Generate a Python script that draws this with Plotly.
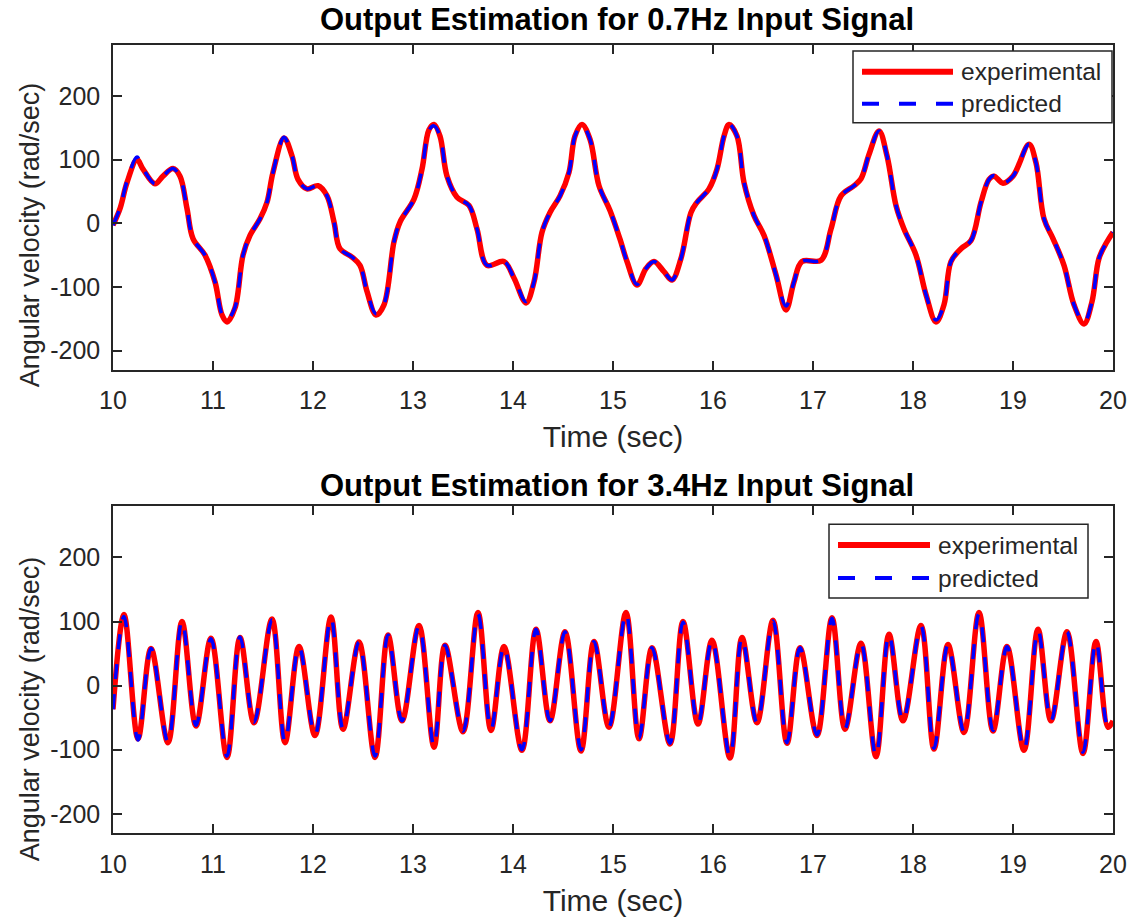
import plotly.graph_objects as go

# ---------------- data ----------------
t_top = [10.00, 10.07, 10.14, 10.24, 10.30, 10.42, 10.50, 10.60, 10.67, 10.74,
         10.80, 10.92, 11.02, 11.09, 11.14, 11.22, 11.30, 11.37, 11.47, 11.54,
         11.60, 11.71, 11.79, 11.85, 11.94, 12.05, 12.14, 12.21, 12.27, 12.39,
         12.47, 12.54, 12.63, 12.71, 12.81, 12.87, 13.01, 13.09, 13.16, 13.21,
         13.27, 13.34, 13.44, 13.56, 13.64, 13.74, 13.91, 14.01, 14.13, 14.21,
         14.29, 14.37, 14.47, 14.56, 14.62, 14.69, 14.77, 14.86, 14.97, 15.07,
         15.14, 15.24, 15.33, 15.41, 15.51, 15.59, 15.68, 15.78, 15.84, 15.96,
         16.04, 16.11, 16.16, 16.24, 16.31, 16.41, 16.51, 16.63, 16.73, 16.81,
         16.89, 17.08, 17.18, 17.28, 17.41, 17.48, 17.56, 17.66, 17.74, 17.83,
         17.91, 18.03, 18.13, 18.23, 18.31, 18.38, 18.48, 18.58, 18.68, 18.76,
         18.81, 18.90, 19.00, 19.16, 19.23, 19.31, 19.40, 19.51, 19.61, 19.71,
         19.79, 19.86, 19.94, 20.00]
exp_top = [-3, 23, 64, 100, 85, 62, 74, 86, 74, 23,
           -24, -50, -92, -144, -155, -133, -50, -19, 7, 33,
           80, 134, 106, 69, 54, 59, 43, 2, -40, -53,
           -66, -107, -144, -128, -29, 2, 38, 85, 147, 155,
           137, 74, 41, 28, -9, -66, -60, -86, -125, -92,
           -14, 17, 43, 80, 137, 155, 132, 59, 20, -25,
           -60, -97, -71, -60, -76, -89, -55, 17, 33, 54,
           85, 137, 155, 137, 64, 12, -19, -81, -136, -92,
           -60, -58, -9, 43, 59, 70, 108, 145, 106, 28,
           -9, -50, -112, -155, -128, -60, -40, -27, 33, 69,
           74, 63, 74, 124, 95, 7, -24, -66, -128, -158,
           -123, -55, -29, -14]
pred_top = [-3, 24, 66, 104, 86, 62, 74, 86, 73, 23,
            -24, -50, -92, -143, -152, -132, -50, -19, 7, 33,
            80, 135, 106, 69, 54, 59, 43, 2, -40, -53,
            -66, -107, -142, -127, -29, 2, 38, 85, 146, 153,
            137, 74, 41, 28, -9, -66, -60, -86, -123, -92,
            -14, 17, 43, 80, 137, 154, 132, 59, 20, -25,
            -60, -96, -71, -60, -76, -89, -55, 17, 33, 54,
            85, 137, 156, 137, 64, 12, -19, -81, -130, -92,
            -60, -58, -9, 43, 59, 70, 108, 145, 106, 28,
            -9, -50, -112, -152, -128, -60, -40, -27, 33, 69,
            75, 63, 74, 124, 95, 7, -24, -66, -128, -156,
            -123, -55, -29, -14]

t_bot = [10.00, 10.11, 10.25, 10.38, 10.55, 10.69, 10.83, 10.98, 11.14, 11.27,
         11.41, 11.59, 11.72, 11.86, 12.02, 12.18, 12.30, 12.46, 12.62, 12.75,
         12.89, 13.06, 13.21, 13.32, 13.50, 13.65, 13.78, 13.91, 14.09, 14.23,
         14.37, 14.52, 14.68, 14.81, 14.96, 15.13, 15.26, 15.39, 15.57, 15.70,
         15.85, 15.99, 16.17, 16.29, 16.44, 16.60, 16.74, 16.87, 17.04, 17.19,
         17.32, 17.48, 17.63, 17.76, 17.90, 18.08, 18.21, 18.35, 18.51, 18.66,
         18.80, 18.94, 19.11, 19.25, 19.38, 19.54, 19.70, 19.83, 19.95, 20.00]
exp_bot = [-37, 111, -83, 58, -89, 100, -63, 74, -112, 75,
           -58, 104, -89, 61, -78, 107, -68, 68, -112, 79,
           -55, 94, -96, 63, -72, 114, -70, 61, -101, 88,
           -55, 84, -102, 69, -65, 114, -83, 59, -91, 100,
           -60, 71, -113, 75, -58, 102, -90, 59, -78, 106,
           -68, 66, -111, 80, -55, 94, -99, 64, -73, 114,
           -71, 61, -101, 88, -55, 84, -106, 69, -65, -55]
pred_bot = [-37, 108, -85, 58, -88, 101, -62, 73, -110, 76,
            -57, 103, -88, 61, -77, 106, -67, 68, -110, 79,
            -55, 93, -95, 63, -71, 112, -69, 61, -100, 88,
            -55, 84, -100, 69, -64, 113, -82, 59, -90, 99,
            -60, 71, -111, 75, -58, 101, -89, 59, -77, 105,
            -67, 66, -110, 80, -55, 93, -98, 64, -72, 112,
            -70, 61, -100, 87, -55, 84, -104, 69, -64, -56]

titles = ["Output Estimation for 0.7Hz Input Signal",
          "Output Estimation for 3.4Hz Input Signal"]
x_label = "Time (sec)"
y_label = "Angular velocity (rad/sec)"
legend_names = ["experimental", "predicted"]
x_ticks = list(range(10, 21))
y_ticks = [-200, -100, 0, 100, 200]

# ---------------- figure ----------------
RED = "#ff0000"
BLUE = "#0000ff"
AX = "#262626"
FONT = "Liberation Sans, Arial, Helvetica, sans-serif"

fig = go.Figure()
for t, e, p, xa, ya in [(t_top, exp_top, pred_top, "x", "y"),
                        (t_bot, exp_bot, pred_bot, "x2", "y2")]:
    fig.add_trace(go.Scatter(x=t, y=e, mode="lines", name=legend_names[0],
                             line=dict(color=RED, width=5.5, shape="spline"),
                             xaxis=xa, yaxis=ya, showlegend=False))
    fig.add_trace(go.Scatter(x=t, y=p, mode="lines", name=legend_names[1],
                             line=dict(color=BLUE, width=3.5, shape="spline",
                                       dash="15px,15px"),
                             xaxis=xa, yaxis=ya, showlegend=False))

axis_common = dict(showline=True, mirror="allticks", linecolor=AX, linewidth=1.5,
                   ticks="inside", ticklen=9, tickwidth=1.5, tickcolor=AX,
                   showgrid=False, zeroline=False,
                   tickfont=dict(family=FONT, size=25, color=AX))
xaxis_common = dict(axis_common, range=[10, 20], tickvals=x_ticks,
                    ticktext=[str(v) for v in x_ticks], ticklabelstandoff=8,
                    title=dict(text=x_label, standoff=13,
                               font=dict(family=FONT, size=30, color=AX)))
yaxis_common = dict(axis_common, range=[-230, 280], tickvals=y_ticks,
                    ticktext=[str(v) for v in y_ticks], ticklabelstandoff=6)

fig.update_layout(
    width=1143, height=924,
    margin=dict(l=113, r=30, t=45, b=88),
    paper_bgcolor="white", plot_bgcolor="white",
    font=dict(family=FONT, color=AX),
    xaxis=dict(xaxis_common, domain=[0, 1], anchor="y"),
    yaxis=dict(yaxis_common, domain=[0.5879, 1], anchor="x"),
    xaxis2=dict(xaxis_common, domain=[0, 1], anchor="y2"),
    yaxis2=dict(yaxis_common, domain=[0, 0.4147], anchor="x2"),
)

# y-axis labels (placed as in the reference, slightly below the axes centre)
for ypos in [0.7585, 0.157]:
    fig.add_annotation(text=y_label, xref="paper", yref="paper",
                       x=-0.083, y=ypos, xanchor="center", yanchor="middle",
                       textangle=-90, showarrow=False,
                       font=dict(family=FONT, size=27, color=AX))

# subplot titles
for txt, ypos in [(titles[0], 1.0329), (titles[1], 0.4412)]:
    fig.add_annotation(text="<b>%s</b>" % txt, xref="paper", yref="paper",
                       x=0.504, y=ypos, xanchor="center", yanchor="middle",
                       showarrow=False, font=dict(family=FONT, size=31, color="black"))

# legends drawn MATLAB-style (long line samples)
legend_boxes = [
    # xref, yref, box x0,x1,y0,y1, line x0,x1, row y exp, row y pred, text x
    ("x domain", "y domain", 0.740, 0.999, 0.7607, 0.9816, 0.749, 0.840, 0.918, 0.819, 0.846),
    ("x2 domain", "y2 domain", 0.716, 0.975, 0.7195, 0.945, 0.725, 0.817, 0.881, 0.780, 0.823),
]
for xr, yr, bx0, bx1, by0, by1, lx0, lx1, ye, yp, tx in legend_boxes:
    fig.add_shape(type="rect", xref=xr, yref=yr, x0=bx0, x1=bx1, y0=by0, y1=by1,
                  line=dict(color=AX, width=1.5), fillcolor="white", layer="above")
    fig.add_shape(type="line", xref=xr, yref=yr, x0=lx0, x1=lx1, y0=ye, y1=ye,
                  line=dict(color=RED, width=6), layer="above")
    fig.add_shape(type="line", xref=xr, yref=yr, x0=lx0, x1=lx1, y0=yp, y1=yp,
                  line=dict(color=BLUE, width=4, dash="17px,20px"), layer="above")
    for name, yy in [(legend_names[0], ye), (legend_names[1], yp)]:
        fig.add_annotation(text=name, xref=xr, yref=yr, x=tx, y=yy,
                           xanchor="left", yanchor="middle", showarrow=False,
                           font=dict(family=FONT, size=24.5, color=AX))

fig.write_html("out.html")
